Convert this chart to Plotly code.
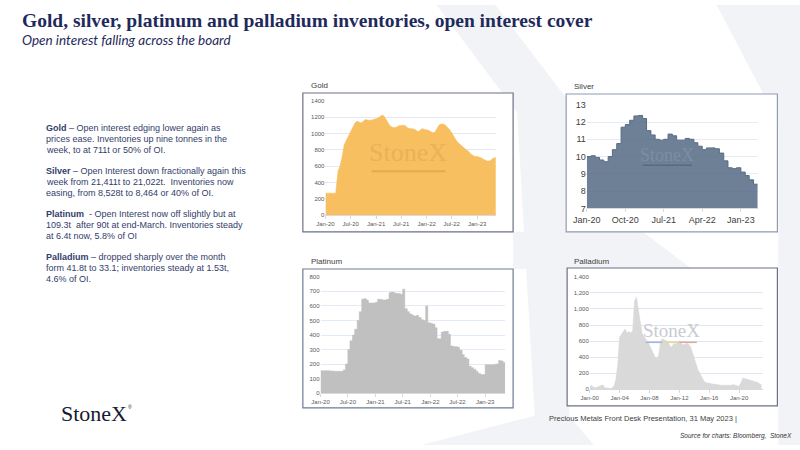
import pandas as pd
import plotly.graph_objects as go

W, H = 800, 450

# ---- data ----
gold_dates = pd.date_range("2020-01-01", periods=82, freq="SMS")
gold_oi = [270, 270, 270, 270, 265, 270, 540, 600, 720, 860,
           920, 970, 1020, 1080, 1130, 1150, 1140, 1130, 1150, 1170,
           1165, 1160, 1165, 1170, 1180, 1190, 1210, 1225, 1210, 1160,
           1120, 1090, 1075, 1075, 1080, 1095, 1100, 1100, 1095, 1070,
           1060, 1060, 1055, 1040, 1025, 1040, 1060, 1050, 1040, 1040,
           1020, 1010, 1015, 1060, 1105, 1115, 1115, 1105, 1080, 1050,
           1010, 960, 920, 890, 860, 840, 820, 800, 780, 750,
           730, 720, 720, 715, 700, 685, 670, 665, 665, 685,
           700, 705]

silver_dates = pd.date_range("2020-01-01", periods=41, freq="MS")
silver_oi = [10.0, 10.05, 9.95, 9.8, 9.7, 10.0, 10.4, 10.75, 11.7, 11.85,
             12.1, 12.35, 12.38, 12.2, 11.5, 11.25, 11.0, 10.95, 11.0, 11.3,
             11.2, 10.95, 10.95, 11.05, 11.0, 10.8, 10.6, 10.4, 10.5, 10.5,
             10.45, 10.2, 9.75, 9.35, 9.3, 9.35, 9.1, 8.9, 8.65, 8.4,
             8.4]

plat_dates = pd.date_range("2020-01-01", periods=82, freq="SMS")
plat_oi = [155, 155, 155, 155, 153, 152, 150, 150, 150, 150,
           160, 200, 300, 360, 400, 440, 500, 560, 645, 650,
           640, 620, 620, 620, 625, 645, 645, 640, 640, 645,
           690, 695, 690, 685, 685, 680, 715, 580, 560, 545,
           535, 530, 535, 520, 505, 500, 600, 485, 480, 475,
           450, 375, 375, 420, 425, 425, 405, 325, 320, 320,
           315, 295, 265, 245, 235, 185, 175, 165, 150, 135,
           128, 128, 195, 195, 195, 195, 198, 200, 225, 222,
           210, 205]

pall_dates = pd.date_range("2000-01-01", periods=93, freq="QS")
pall_oi = [30, 50, 25, 20, 25, 35, 50, 55, 20, 15,
           10, 10, 15, 40, 120, 300, 650, 690, 720, 750,
           700, 720, 700, 730, 1100, 1150, 1000, 850, 700, 660,
           630, 590, 550, 490, 450, 400, 380, 430, 600, 630,
           620, 610, 590, 530, 530, 570, 560, 590, 600, 570,
           550, 560, 570, 560, 530, 460, 380, 300, 240, 200,
           150, 110, 85, 78, 72, 72, 65, 62, 58, 52,
           50, 48, 50, 48, 45, 45, 50, 58, 50, 38,
           35, 80, 140, 135, 128, 120, 115, 108, 100, 92,
           85, 70, 55]

notes = [
    ["<b>Gold</b> \u2013 Open interest edging lower again as",
     "prices ease. Inventories up nine tonnes in the",
     "week, to at 711t or 50% of OI."],
    ["<b>Silver</b> \u2013 Open Interest down fractionally again this",
     "week from 21,411t to 21,022t.  Inventories now",
     "easing, from 8,528t to 8,464 or 40% of OI."],
    ["<b>Platinum</b>  - Open Interest now off slightly but at",
     "109.3t  after 90t at end-March. Inventories steady",
     "at 6.4t now, 5.8% of OI"],
    ["<b>Palladium</b> \u2013 dropped sharply over the month",
     "form 41.8t to 33.1; inventories steady at 1.53t,",
     "4.6% of OI."],
]


def px(x):
    return x / W


def py(y):
    return 1 - y / H


NAVY = "#1f2a5c"
fig = go.Figure()

fig.add_trace(go.Scatter(x=gold_dates, y=gold_oi, mode="lines", fill="tozeroy",
                         line=dict(color="#f5bc5c", width=0.5), fillcolor="#f7bf5f",
                         xaxis="x", yaxis="y", hoverinfo="skip"))
fig.add_trace(go.Scatter(x=silver_dates, y=silver_oi, mode="lines", fill="tozeroy",
                         line=dict(color="#566b84", width=1, shape="hv"),
                         fillcolor="rgba(84,106,132,0.85)",
                         xaxis="x2", yaxis="y2", hoverinfo="skip"))
fig.add_trace(go.Scatter(x=plat_dates, y=plat_oi, mode="lines", fill="tozeroy",
                         line=dict(color="#bdbdbd", width=0.5, shape="hv"), fillcolor="#c0c0c0",
                         xaxis="x3", yaxis="y3", hoverinfo="skip"))
fig.add_trace(go.Scatter(x=pall_dates, y=pall_oi, mode="lines", fill="tozeroy",
                         line=dict(color="#d6d6d6", width=0.5), fillcolor="#d9d9d9",
                         xaxis="x4", yaxis="y4", hoverinfo="skip"))

small = dict(family="Liberation Sans", size=6, color="#595959")
base_x = dict(type="date", showgrid=False, showline=True, linecolor="#d9d9d9",
              ticks="outside", ticklen=3, tickcolor="#d9d9d9", tickformat="%b-%y",
              tickfont=small, fixedrange=True)
base_y = dict(showline=False, zeroline=False, ticks="", tickfont=small,
              gridcolor="#e3e8f2", gridwidth=1, fixedrange=True)

fig.update_layout(
    width=W, height=H, margin=dict(l=0, r=0, t=0, b=0),
    paper_bgcolor="white", plot_bgcolor="rgba(0,0,0,0)", showlegend=False,
    xaxis=dict(base_x, domain=[px(317), px(491)], anchor="y", dtick="M6",
               tick0="2020-01-01", range=["2020-01-01", "2023-05-20"]),
    yaxis=dict(base_y, domain=[py(215), py(98)], anchor="x", range=[0, 1400], dtick=200),
    xaxis2=dict(base_x, domain=[px(583), px(757)], anchor="y2", dtick="M9",
                tick0="2020-01-01", range=["2020-01-01", "2023-05-01"],
                tickfont=dict(family="Liberation Sans", size=9, color="#404040")),
    yaxis2=dict(base_y, domain=[py(208), py(102)], anchor="x2", range=[7, 13], dtick=1,
                gridcolor="#e6ecf5",
                tickfont=dict(family="Liberation Sans", size=9, color="#404040")),
    xaxis3=dict(base_x, domain=[px(312), px(500)], anchor="y3", dtick="M6",
                tick0="2020-01-01", range=["2020-01-01", "2023-05-15"]),
    yaxis3=dict(base_y, domain=[py(397), py(278)], anchor="x3", range=[0, 800], dtick=100,
                gridcolor="#e2ebf5"),
    xaxis4=dict(base_x, domain=[px(586), px(762)], anchor="y4", dtick="M48",
                tick0="2000-01-01", range=["2000-01-01", "2023-03-01"]),
    yaxis4=dict(base_y, domain=[py(393), py(278)], anchor="x4", range=[0, 1400], dtick=200,
                tickformat=",", gridcolor="#dce6f2"),
)

shapes = []
# faint X watermark behind the slide
wm = [
    [(430, 0), (490, 0), (562, 95), (565, 420), (590, 450), (415, 450), (530, 420), (512, 110)],
    [(715, 0), (800, 0), (800, 450), (778, 450), (778, 120)],
    [(508, 232), (640, 232), (690, 270), (508, 270)],
]
for poly in wm:
    path = "M " + " L ".join(f"{px(a):.4f},{py(b):.4f}" for a, b in poly) + " Z"
    shapes.append(dict(type="path", path=path, xref="paper", yref="paper",
                       fillcolor="#f2f3f6", line=dict(width=0), layer="below"))

frames = [((294, 90, 508, 232), "#6b7184"), ((562, 91, 777, 232), "#8f9cb1"),
          ((294, 270, 508, 412), "#6f7a96"), ((563, 269, 777, 410), "#6b7184")]
for (x0, y0, x1, y1), col in frames:
    shapes.append(dict(type="rect", xref="paper", yref="paper",
                       x0=px(x0), x1=px(x1), y0=py(y1), y1=py(y0),
                       fillcolor="white", line=dict(color=col, width=1.2), layer="below"))

# coloured rules under the in-chart StoneX marks
shapes.append(dict(type="line", xref="paper", yref="paper", x0=px(364), x1=px(439),
                   y0=py(170), y1=py(170), line=dict(color="#e6aa4c", width=2)))
shapes.append(dict(type="line", xref="paper", yref="paper", x0=px(640), x1=px(690),
                   y0=py(164), y1=py(164), line=dict(color="#566a80", width=1.5)))
for (a, b), col in zip([(643, 660), (660, 677), (677, 695)], ["#9fb6d6", "#e6d79a", "#e2a6a0"]):
    shapes.append(dict(type="line", xref="paper", yref="paper", x0=px(a), x1=px(b),
                       y0=py(345), y1=py(345), line=dict(color=col, width=1.5)))
fig.update_layout(shapes=shapes)

ann = []


def txt(x, y, s, size, color, family="Liberation Sans", anchor="left", **kw):
    ann.append(dict(x=px(x), y=py(y), xref="paper", yref="paper", text=s, showarrow=False,
                    xanchor=anchor, yanchor="middle",
                    font=dict(family=family, size=size, color=color, **kw)))


txt(6, 16, "<b>Gold, silver, platinum and palladium inventories, open interest cover</b>",
    19.5, NAVY, family="Liberation Serif")
txt(6, 36, "<i>Open interest falling across the board</i>", 13.5, NAVY, family="Lato")

line_y = 126
for para in notes:
    for line in para:
        txt(31, line_y, line, 9, "#333d6b")
        line_y += 11
    line_y += 11

txt(300, 82, "Gold", 8, "#404040")
txt(568, 83, "Silver", 8, "#404040")
txt(300, 262, "Platinum", 8, "#404040")
txt(568, 262, "Palladium", 8, "#404040")

txt(401, 151, "StoneX", 26, "#eab158", family="Liberation Serif", anchor="center")
txt(665, 153, "StoneX", 18, "#7c8ea4", family="Liberation Serif", anchor="center")
txt(669, 333, "StoneX", 19, "#c8cbd2", family="Liberation Serif", anchor="center")

txt(46, 418, "StoneX", 22, "#161b2e", family="Liberation Serif")
txt(114, 411, "\u00ae", 5, "#161b2e")

txt(543, 423, "Precious Metals Front Desk Presentation, 31 May 2023 |", 7.5, "#404040")
txt(794, 441, "<i>Source for charts: Bloomberg,  StoneX</i>", 6.5, "#333333", anchor="right")

fig.update_layout(annotations=ann)

# the page body has a default margin; drop it so the figure sits at the window origin
fig.write_html("out.html", config={"displayModeBar": False},
               post_script="document.body.style.margin='0';")
